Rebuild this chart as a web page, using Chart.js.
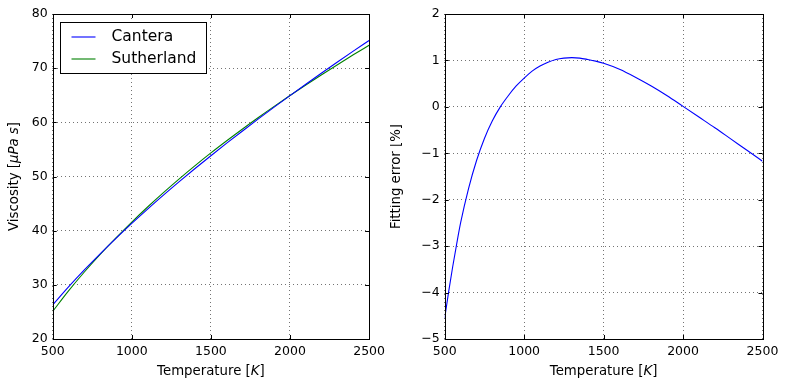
<!DOCTYPE html>
<html>
<head>
<meta charset="utf-8">
<script src="https://cdn.jsdelivr.net/npm/chart.js@4/dist/chart.umd.min.js"></script>
<style>
    html, body { margin: 0; padding: 0; background: #fff; }
    #wrap { position: relative; width: 787px; height: 387px; }
    canvas { position: absolute; top: 0; }
    #viscChart { left: 0; }
    #errChart { left: 390px; }
</style>
</head>
<body>
<div id="wrap">
    <canvas id="viscChart" width="390" height="387"></canvas>
    <canvas id="errChart" width="397" height="387"></canvas>
</div>
<script>
// Viscosity curves
const tempK = [500, 600, 700, 800, 900, 1000, 1100, 1200, 1300, 1400, 1500,
               1600, 1700, 1800, 1900, 2000, 2100, 2200, 2300, 2400, 2500];
const canteraVisc = [26.30, 29.62, 32.75, 35.73, 38.58, 41.33, 43.98, 46.55, 49.04, 51.47, 53.84,
                     56.15, 58.41, 60.63, 62.80, 64.94, 67.04, 69.10, 71.13, 73.14, 75.11];
const sutherlandVisc = [25.10, 28.88, 32.37, 35.62, 38.67, 41.59, 44.37, 47.02, 49.56, 52.00, 54.35,
                        56.60, 58.78, 60.90, 62.95, 64.95, 66.89, 68.79, 70.64, 72.46, 74.23];

// Fitting error curve
const errTempK = [500, 525, 550, 575, 600, 650, 700, 750, 800, 850, 900, 950, 1000,
                  1050, 1100, 1150, 1200, 1250, 1300, 1350, 1400, 1450, 1500,
                  1600, 1700, 1800, 1900, 2000, 2100, 2200, 2300, 2400, 2500];
const fitError = [-4.55, -3.98, -3.45, -2.96, -2.50, -1.76, -1.16, -0.68, -0.30, 0.00, 0.24, 0.45, 0.62,
                  0.77, 0.88, 0.96, 1.02, 1.05, 1.06, 1.05, 1.02, 0.985, 0.94,
                  0.81, 0.64, 0.45, 0.24, 0.01, -0.22, -0.45, -0.69, -0.93, -1.17];

// Tick labels
const tempTicks = [500, 1000, 1500, 2000, 2500];
const viscTicks = [20, 30, 40, 50, 60, 70, 80];
const errTicks = [-5, -4, -3, -2, -1, 0, 1, 2];

const seriesColors = ['#0000ff', '#008000'];
const FONT = "'DejaVu Sans', sans-serif";

// Draw a string made of plain / italic pieces, centred on (x, y)
function drawRich(ctx, parts, x, y, size) {
    let total = 0;
    const widths = parts.map(p => {
        ctx.font = (p[1] ? 'italic ' : '') + size + 'px ' + FONT;
        const w = ctx.measureText(p[0]).width;
        total += w;
        return w;
    });
    let cx = x - total / 2;
    ctx.textBaseline = 'middle';
    ctx.textAlign = 'left';
    ctx.fillStyle = '#000';
    parts.forEach((p, i) => {
        ctx.font = (p[1] ? 'italic ' : '') + size + 'px ' + FONT;
        ctx.fillText(p[0], cx, y);
        cx += widths[i];
    });
}

// Matplotlib-like frame: box, inward ticks, axis titles, legend
const mplFrame = {
    id: 'mplFrame',
    afterDraw(chart, args, opts) {
        const { ctx, chartArea: a, scales } = chart;
        ctx.save();
        ctx.strokeStyle = '#000';
        ctx.lineWidth = 1;
        ctx.beginPath();
        scales.x.ticks.forEach(t => {
            const px = Math.round(scales.x.getPixelForValue(t.value)) + 0.5;
            ctx.moveTo(px, a.bottom); ctx.lineTo(px, a.bottom - 4);
            ctx.moveTo(px, a.top); ctx.lineTo(px, a.top + 4);
        });
        scales.y.ticks.forEach(t => {
            const py = Math.round(scales.y.getPixelForValue(t.value)) + 0.5;
            ctx.moveTo(a.left, py); ctx.lineTo(a.left + 4, py);
            ctx.moveTo(a.right, py); ctx.lineTo(a.right - 4, py);
        });
        ctx.stroke();
        ctx.strokeRect(Math.round(a.left) + 0.5, Math.round(a.top) + 0.5,
                       Math.round(a.right - a.left), Math.round(a.bottom - a.top));

        // axis titles
        drawRich(ctx, opts.xTitle, (a.left + a.right) / 2, a.bottom + 32.5, 13.3);
        ctx.save();
        ctx.translate(a.left - opts.yTitleGap, (a.top + a.bottom) / 2);
        ctx.rotate(-Math.PI / 2);
        drawRich(ctx, opts.yTitle, 0, 0, 13.3);
        ctx.restore();

        // legend in the upper left corner
        if (opts.legend) {
            const bx = Math.round(a.left + 7) + 0.5, by = Math.round(a.top + 8) + 0.5;
            ctx.fillStyle = '#fff';
            ctx.fillRect(bx, by, 146, 51);
            ctx.strokeStyle = '#000';
            ctx.lineWidth = 1;
            ctx.strokeRect(bx, by, 146, 51);
            chart.data.datasets.forEach((ds, i) => {
                const ry = by + 14 + i * 22.6;
                ctx.strokeStyle = seriesColors[i];
                ctx.lineWidth = 1.1;
                ctx.beginPath();
                ctx.moveTo(bx + 11, Math.round(ry));
                ctx.lineTo(bx + 35, Math.round(ry));
                ctx.stroke();
                ctx.fillStyle = '#000';
                ctx.font = '15.5px ' + FONT;
                ctx.textBaseline = 'middle';
                ctx.textAlign = 'left';
                ctx.fillText(ds.label, bx + 51, ry);
            });
        }
        ctx.restore();
    }
};

function minusSign(v) {
    return String(v).replace('-', '\u2212');
}

function makeScales(yTicks, yWidth) {
    return {
        x: {
            type: 'linear',
            min: tempTicks[0],
            max: tempTicks[tempTicks.length - 1],
            afterBuildTicks: s => { s.ticks = tempTicks.map(v => ({ value: v })); },
            afterFit: s => { s.height = 48; },
            grid: { color: 'rgba(0,0,0,0.55)', lineWidth: 1, drawTicks: false },
            border: { display: false, dash: [1, 3] },
            ticks: { color: '#000', font: { family: FONT, size: 12.5 }, padding: 5, maxRotation: 0, callback: minusSign }
        },
        y: {
            type: 'linear',
            min: yTicks[0],
            max: yTicks[yTicks.length - 1],
            afterBuildTicks: s => { s.ticks = yTicks.map(v => ({ value: v })); },
            afterFit: s => { s.width = yWidth; },
            grid: { color: 'rgba(0,0,0,0.55)', lineWidth: 1, drawTicks: false },
            border: { display: false, dash: [1, 3] },
            ticks: { color: '#000', font: { family: FONT, size: 12.5 }, padding: 5, callback: minusSign }
        }
    };
}

function toPoints(xs, ys) {
    return xs.map((x, i) => ({ x: x, y: ys[i] }));
}

// Left panel: viscosity
new Chart(document.getElementById('viscChart'), {
    type: 'line',
    data: {
        datasets: [{
            label: 'Cantera',
            data: toPoints(tempK, canteraVisc),
            borderColor: seriesColors[0],
            borderWidth: 1.1,
            pointRadius: 0,
            cubicInterpolationMode: 'monotone'
        }, {
            label: 'Sutherland',
            data: toPoints(tempK, sutherlandVisc),
            borderColor: seriesColors[1],
            borderWidth: 1.1,
            pointRadius: 0,
            cubicInterpolationMode: 'monotone'
        }]
    },
    options: {
        responsive: false,
        animation: false,
        layout: { padding: { top: 14, right: 19.7, bottom: 0, left: 0 } },
        scales: makeScales(viscTicks, 52.7),
        plugins: {
            legend: { display: false },
            tooltip: { enabled: false },
            mplFrame: {
                legend: true,
                yTitleGap: 38,
                xTitle: [['Temperature [', false], ['K', true], [']', false]],
                yTitle: [['Viscosity [', false], ['\u03bcPa s', true], [']', false]]
            }
        }
    },
    plugins: [mplFrame]
});

// Right panel: fitting error
new Chart(document.getElementById('errChart'), {
    type: 'line',
    data: {
        datasets: [{
            label: 'Fitting error',
            data: toPoints(errTempK, fitError),
            borderColor: seriesColors[0],
            borderWidth: 1.1,
            pointRadius: 0,
            cubicInterpolationMode: 'monotone'
        }]
    },
    options: {
        responsive: false,
        animation: false,
        layout: { padding: { top: 14, right: 24.5, bottom: 0, left: 0 } },
        scales: makeScales(errTicks, 54.7),
        plugins: {
            legend: { display: false },
            tooltip: { enabled: false },
            mplFrame: {
                legend: false,
                yTitleGap: 48,
                xTitle: [['Temperature [', false], ['K', true], [']', false]],
                yTitle: [['Fitting error [%]', false]]
            }
        }
    },
    plugins: [mplFrame]
});
</script>
</body>
</html>
